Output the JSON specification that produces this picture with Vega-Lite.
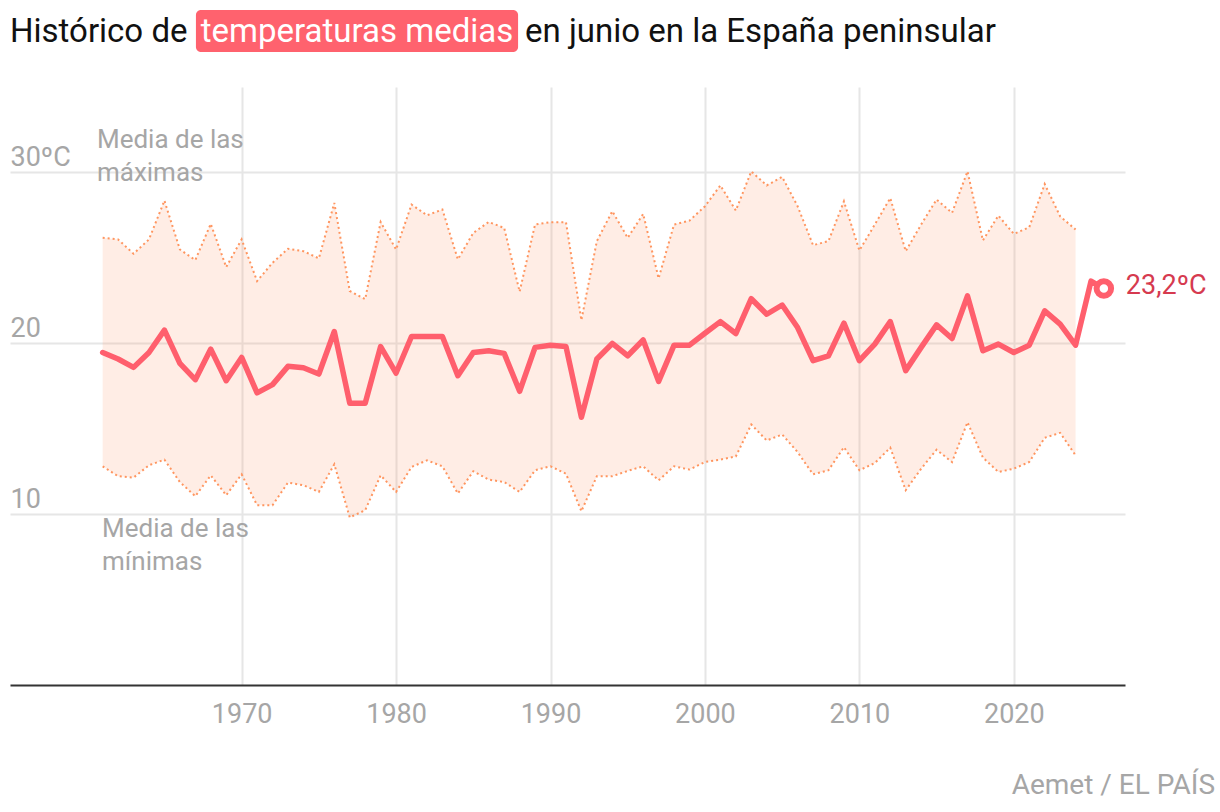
{
  "$schema": "https://vega.github.io/schema/vega-lite/v6.json",
  "width": 1115,
  "height": 598,
  "autosize": {"type": "none"},
  "padding": {"left": 10, "top": 87, "right": 95, "bottom": 127},
  "background": "white",
  "config": {"view": {"stroke": null}, "font": "Roboto"},
  "datasets": {
    "temps": [
      {"year": 1961, "media": 19.46, "max": 26.17, "min": 12.80},
      {"year": 1962, "media": 19.08, "max": 26.08, "min": 12.22},
      {"year": 1963, "media": 18.59, "max": 25.24, "min": 12.14},
      {"year": 1964, "media": 19.46, "max": 26.08, "min": 12.86},
      {"year": 1965, "media": 20.77, "max": 28.35, "min": 13.19},
      {"year": 1966, "media": 18.82, "max": 25.49, "min": 11.88},
      {"year": 1967, "media": 17.87, "max": 24.87, "min": 11.05},
      {"year": 1968, "media": 19.66, "max": 26.99, "min": 12.27},
      {"year": 1969, "media": 17.81, "max": 24.46, "min": 11.11},
      {"year": 1970, "media": 19.17, "max": 26.08, "min": 12.33},
      {"year": 1971, "media": 17.10, "max": 23.64, "min": 10.52},
      {"year": 1972, "media": 17.58, "max": 24.71, "min": 10.52},
      {"year": 1973, "media": 18.65, "max": 25.53, "min": 11.85},
      {"year": 1974, "media": 18.57, "max": 25.39, "min": 11.69},
      {"year": 1975, "media": 18.20, "max": 24.97, "min": 11.30},
      {"year": 1976, "media": 20.69, "max": 28.21, "min": 12.92},
      {"year": 1977, "media": 16.49, "max": 23.06, "min": 9.81},
      {"year": 1978, "media": 16.49, "max": 22.58, "min": 10.23},
      {"year": 1979, "media": 19.81, "max": 27.10, "min": 12.27},
      {"year": 1980, "media": 18.26, "max": 25.49, "min": 11.30},
      {"year": 1981, "media": 20.40, "max": 28.12, "min": 12.76},
      {"year": 1982, "media": 20.40, "max": 27.49, "min": 13.15},
      {"year": 1983, "media": 20.40, "max": 27.83, "min": 12.80},
      {"year": 1984, "media": 18.10, "max": 24.91, "min": 11.21},
      {"year": 1985, "media": 19.46, "max": 26.46, "min": 12.51},
      {"year": 1986, "media": 19.56, "max": 27.10, "min": 12.02},
      {"year": 1987, "media": 19.41, "max": 26.75, "min": 11.88},
      {"year": 1988, "media": 17.19, "max": 23.02, "min": 11.30},
      {"year": 1989, "media": 19.76, "max": 26.95, "min": 12.57},
      {"year": 1990, "media": 19.89, "max": 27.09, "min": 12.80},
      {"year": 1991, "media": 19.81, "max": 27.09, "min": 12.37},
      {"year": 1992, "media": 15.67, "max": 21.35, "min": 10.17},
      {"year": 1993, "media": 19.08, "max": 25.98, "min": 12.22},
      {"year": 1994, "media": 19.99, "max": 27.73, "min": 12.22},
      {"year": 1995, "media": 19.27, "max": 26.17, "min": 12.53},
      {"year": 1996, "media": 20.19, "max": 27.57, "min": 12.80},
      {"year": 1997, "media": 17.77, "max": 23.80, "min": 11.98},
      {"year": 1998, "media": 19.89, "max": 26.95, "min": 12.80},
      {"year": 1999, "media": 19.89, "max": 27.18, "min": 12.61},
      {"year": 2000, "media": 20.59, "max": 28.02, "min": 13.05},
      {"year": 2001, "media": 21.27, "max": 29.24, "min": 13.19},
      {"year": 2002, "media": 20.57, "max": 27.77, "min": 13.38},
      {"year": 2003, "media": 22.61, "max": 30.06, "min": 15.25},
      {"year": 2004, "media": 21.70, "max": 29.24, "min": 14.31},
      {"year": 2005, "media": 22.24, "max": 29.74, "min": 14.66},
      {"year": 2006, "media": 20.92, "max": 28.02, "min": 13.63},
      {"year": 2007, "media": 18.98, "max": 25.74, "min": 12.33},
      {"year": 2008, "media": 19.27, "max": 25.98, "min": 12.57},
      {"year": 2009, "media": 21.18, "max": 28.31, "min": 13.92},
      {"year": 2010, "media": 18.98, "max": 25.43, "min": 12.57},
      {"year": 2011, "media": 19.95, "max": 26.95, "min": 12.99},
      {"year": 2012, "media": 21.27, "max": 28.50, "min": 13.89},
      {"year": 2013, "media": 18.40, "max": 25.39, "min": 11.40},
      {"year": 2014, "media": 19.76, "max": 26.95, "min": 12.66},
      {"year": 2015, "media": 21.08, "max": 28.41, "min": 13.77},
      {"year": 2016, "media": 20.28, "max": 27.63, "min": 13.05},
      {"year": 2017, "media": 22.77, "max": 30.06, "min": 15.38},
      {"year": 2018, "media": 19.56, "max": 26.02, "min": 13.31},
      {"year": 2019, "media": 19.95, "max": 27.47, "min": 12.47},
      {"year": 2020, "media": 19.46, "max": 26.40, "min": 12.66},
      {"year": 2021, "media": 19.89, "max": 26.79, "min": 13.05},
      {"year": 2022, "media": 21.90, "max": 29.32, "min": 14.47},
      {"year": 2023, "media": 21.12, "max": 27.43, "min": 14.76},
      {"year": 2024, "media": 19.89, "max": 26.66, "min": 13.44},
      {"year": 2025, "media": 23.64, "max": null, "min": null},
      {"year": 2025.83, "media": 23.2, "max": null, "min": null, "label": "23,2ºC"}
    ]
  },
  "data": {"name": "temps"},
  "layer": [
    {
      "mark": {"type": "area", "fill": "#ff9a70", "fillOpacity": 0.18},
      "encoding": {
        "x": {
          "field": "year", "type": "quantitative", "title": null,
          "scale": {"domain": [1955, 2027.2], "nice": false, "zero": false},
          "axis": {
            "values": [1970, 1980, 1990, 2000, 2010, 2020],
            "format": "d",
            "grid": true, "gridColor": "#e6e6e6", "gridWidth": 2,
            "ticks": false,
            "domainColor": "#333333", "domainWidth": 2,
            "labelFont": "Roboto", "labelFontSize": 27, "labelColor": "#a6a6a6",
            "labelPadding": 16
          }
        },
        "y": {
          "field": "max", "type": "quantitative", "title": null,
          "scale": {"domain": [0, 35], "nice": false, "zero": false},
          "axis": {
            "values": [10, 20, 30],
            "grid": true, "gridColor": "#e6e6e6", "gridWidth": 2,
            "domain": false, "ticks": false,
            "labelAlign": "left", "labelBaseline": "alphabetic",
            "labelPadding": 0, "labelOffset": -7,
            "labelFont": "Roboto", "labelFontSize": 27, "labelColor": "#a6a6a6",
            "labelExpr": "datum.value == 30 ? '30ºC' : datum.label"
          }
        },
        "y2": {"field": "min"}
      }
    },
    {
      "mark": {"type": "line", "stroke": "#ff955f", "strokeWidth": 2, "strokeDash": [2, 3]},
      "encoding": {
        "x": {"field": "year", "type": "quantitative", "title": null},
        "y": {"field": "max", "type": "quantitative", "title": null}
      }
    },
    {
      "mark": {"type": "line", "stroke": "#ff955f", "strokeWidth": 2, "strokeDash": [2, 3]},
      "encoding": {
        "x": {"field": "year", "type": "quantitative", "title": null},
        "y": {"field": "min", "type": "quantitative", "title": null}
      }
    },
    {
      "mark": {"type": "line", "stroke": "#ff5f6d", "strokeWidth": 5.5, "strokeJoin": "round", "strokeCap": "round"},
      "encoding": {
        "x": {"field": "year", "type": "quantitative", "title": null},
        "y": {"field": "media", "type": "quantitative", "title": null}
      }
    },
    {
      "transform": [{"filter": "datum.label != null"}],
      "mark": {"type": "point", "shape": "circle", "filled": true, "fill": "white", "stroke": "#ff5f6d", "strokeWidth": 6, "size": 210, "opacity": 1},
      "encoding": {
        "x": {"field": "year", "type": "quantitative", "title": null},
        "y": {"field": "media", "type": "quantitative", "title": null}
      }
    },
    {
      "transform": [{"filter": "datum.label != null"}],
      "mark": {"type": "text", "align": "left", "baseline": "middle", "dx": 22, "dy": -3, "fontSize": 27, "font": "Roboto", "fill": "#d63a4f"},
      "encoding": {
        "x": {"field": "year", "type": "quantitative", "title": null},
        "y": {"field": "media", "type": "quantitative", "title": null},
        "text": {"field": "label"}
      }
    },
    {
      "data": {"values": [{}]},
      "mark": {"type": "rect", "fill": "#ff626e", "cornerRadius": 5},
      "encoding": {
        "x": {"datum": 1967.04}, "x2": {"datum": 1987.9},
        "y": {"datum": 39.51}, "y2": {"datum": 37.05}
      }
    },
    {
      "data": {"values": [{}]},
      "mark": {"type": "text", "align": "left", "baseline": "alphabetic", "fontSize": 33, "font": "Roboto", "fill": "#111111", "text": "Histórico de"},
      "encoding": {"x": {"datum": 1955}, "y": {"datum": 37.63}}
    },
    {
      "data": {"values": [{}]},
      "mark": {"type": "text", "align": "center", "baseline": "alphabetic", "fontSize": 33, "font": "Roboto", "fill": "#ffffff", "text": "temperaturas medias"},
      "encoding": {"x": {"datum": 1977.47}, "y": {"datum": 37.63}}
    },
    {
      "data": {"values": [{}]},
      "mark": {"type": "text", "align": "left", "baseline": "alphabetic", "fontSize": 33, "font": "Roboto", "fill": "#111111", "text": "en junio en la España peninsular"},
      "encoding": {"x": {"datum": 1988.35}, "y": {"datum": 37.63}}
    },
    {
      "data": {"values": [{}]},
      "mark": {"type": "text", "align": "left", "baseline": "alphabetic", "fontSize": 26, "font": "Roboto", "fill": "#a6a6a6", "lineHeight": 33, "text": ["Media de las", "máximas"]},
      "encoding": {"x": {"datum": 1960.63}, "y": {"datum": 31.43}}
    },
    {
      "data": {"values": [{}]},
      "mark": {"type": "text", "align": "left", "baseline": "alphabetic", "fontSize": 26, "font": "Roboto", "fill": "#a6a6a6", "lineHeight": 33, "text": ["Media de las", "mínimas"]},
      "encoding": {"x": {"datum": 1960.96}, "y": {"datum": 8.66}}
    },
    {
      "data": {"values": [{}]},
      "mark": {"type": "text", "align": "right", "baseline": "alphabetic", "fontSize": 28, "font": "Roboto", "fill": "#a6a6a6", "text": "Aemet / EL PAÍS"},
      "encoding": {"x": {"datum": 2033.03}, "y": {"datum": -6.38}}
    }
  ]
}
